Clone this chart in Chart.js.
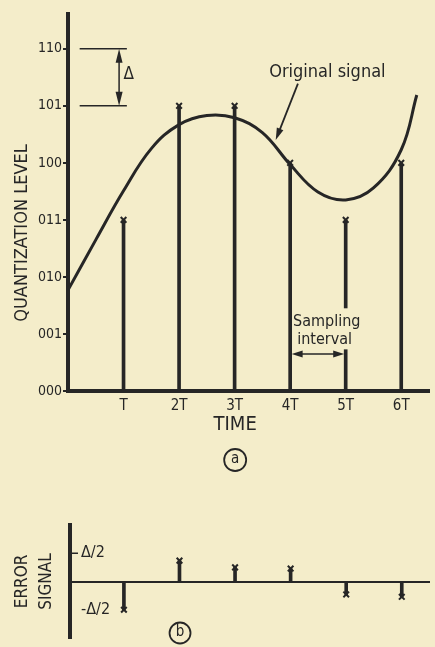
<!DOCTYPE html>
<html><head><meta charset="utf-8">
<script src="https://cdn.jsdelivr.net/npm/chart.js@4.4.1/dist/chart.umd.min.js"></script>
<style>
html,body{margin:0;padding:0;background:#f4edca;width:435px;height:647px;overflow:hidden;}
#c1{position:absolute;left:0;top:0;}
#c2{position:absolute;left:0;top:490px;}
</style></head><body>
<canvas id="c1" width="435" height="480"></canvas>
<canvas id="c2" width="435" height="157"></canvas>
<script>
// ---- data ----
const sampleTimes = [1, 2, 3, 4, 5, 6];
const timeLabels = ['', 'T', '2T', '3T', '4T', '5T', '6T'];
const levelLabels = ['000', '001', '010', '011', '100', '101', '110'];
const sampleLevels = [3, 5, 5, 4, 3, 4];
const signalT =     [0, 0.5, 1, 1.5, 2, 2.5, 3, 3.5, 4, 4.5, 5, 5.5, 6, 6.28];
const signalLevel = [1.77, 2.65, 3.51, 4.25, 4.67, 4.83, 4.79, 4.53, 3.97, 3.49, 3.35, 3.56, 4.23, 5.19];
const errorValues = [-0.5, 0.37, 0.25, 0.23, -0.23, -0.27];
const errorTickLabels = {'0.5': 'Δ/2', '-0.5': '-Δ/2'};

const ink = '#262626';
const bg = '#f4edca';
const fam = "'DejaVu Sans Condensed','DejaVu Sans',sans-serif";

function arrowHead(ctx, x1, y1, x2, y2, len, w) {
  const a = Math.atan2(y2 - y1, x2 - x1);
  const bx = x2 - len * Math.cos(a), by = y2 - len * Math.sin(a);
  ctx.beginPath();
  ctx.moveTo(x2, y2);
  ctx.lineTo(bx + w * Math.sin(a), by - w * Math.cos(a));
  ctx.lineTo(bx - w * Math.sin(a), by + w * Math.cos(a));
  ctx.closePath();
  ctx.fill();
}

const annotTop = {
  id: 'annotTop',
  afterDatasetsDraw(chart) {
    const {ctx, chartArea, scales: {x, y}} = chart;
    const X = v => x.getPixelForValue(v), Y = v => y.getPixelForValue(v);
    ctx.save();
    ctx.strokeStyle = ink; ctx.fillStyle = ink; ctx.lineWidth = 1.5;
    // delta marker
    [6, 5].forEach(l => { ctx.beginPath(); ctx.moveTo(X(0.21), Y(l)); ctx.lineTo(X(1.06), Y(l)); ctx.stroke(); });
    const ax = X(0.92);
    ctx.beginPath(); ctx.moveTo(ax, Y(6) + 6); ctx.lineTo(ax, Y(5) - 6); ctx.stroke();
    arrowHead(ctx, ax, Y(5.5), ax, Y(6), 14, 3.5);
    arrowHead(ctx, ax, Y(5.5), ax, Y(5), 14, 3.5);
    ctx.font = '17px ' + fam; ctx.textAlign = 'left'; ctx.textBaseline = 'middle';
    ctx.fillText('Δ', X(1.0), Y(5.55));
    // original signal label
    ctx.font = '18px ' + fam; ctx.textAlign = 'center';
    ctx.fillText('Original signal', X(4.67), Y(5.58));
    ctx.lineWidth = 1.8;
    ctx.beginPath(); ctx.moveTo(X(4.14), Y(5.39)); ctx.lineTo(X(3.78), Y(4.5)); ctx.stroke();
    arrowHead(ctx, X(4.14), Y(5.39), X(3.74), Y(4.40), 12, 3.5);
    // sampling interval
    ctx.fillStyle = bg;
    ctx.fillRect(X(4.07), Y(1.45), X(5.3) - X(4.07), Y(0.73) - Y(1.45));
    ctx.fillStyle = ink;
    ctx.font = '16px ' + fam;
    ctx.fillText('Sampling', X(4.66), Y(1.21));
    ctx.fillText('interval', X(4.62), Y(0.89));
    const ay = Y(0.65);
    ctx.lineWidth = 1.5;
    ctx.beginPath(); ctx.moveTo(X(4) + 6, ay); ctx.lineTo(X(5) - 6, ay); ctx.stroke();
    arrowHead(ctx, X(4.5), ay, X(4) + 1.5, ay, 11, 3.5);
    arrowHead(ctx, X(4.5), ay, X(5) - 1.5, ay, 11, 3.5);
    // axis titles
    ctx.font = '20px ' + fam; ctx.textAlign = 'center';
    ctx.fillText('TIME', X(3.01), chartArea.bottom + 34);
    ctx.save();
    ctx.translate(22, Y(2.77)); ctx.rotate(-Math.PI / 2);
    ctx.font = '18px ' + fam;
    ctx.fillText('QUANTIZATION LEVEL', 0, 0);
    ctx.restore();
    // (a)
    ctx.lineWidth = 1.8;
    ctx.beginPath(); ctx.arc(X(3.01), chartArea.bottom + 69, 11, 0, Math.PI * 2); ctx.stroke();
    ctx.font = '15px ' + fam;
    ctx.fillText('a', X(3.01), chartArea.bottom + 68);
    ctx.restore();
  }
};

const annotBottom = {
  id: 'annotBottom',
  afterDatasetsDraw(chart) {
    const {ctx, chartArea, scales: {x, y}} = chart;
    const X = v => x.getPixelForValue(v), Y = v => y.getPixelForValue(v);
    ctx.save();
    ctx.strokeStyle = ink; ctx.fillStyle = ink; ctx.lineWidth = 1.5;
    ctx.beginPath(); ctx.moveTo(chartArea.left + 2, Y(0.5)); ctx.lineTo(chartArea.left + 8, Y(0.5)); ctx.stroke();
    ctx.font = '17px ' + fam; ctx.textAlign = 'center'; ctx.textBaseline = 'middle';
    [['ERROR', 23], ['SIGNAL', 47]].forEach(([t, px]) => {
      ctx.save(); ctx.translate(px, Y(0)); ctx.rotate(-Math.PI / 2); ctx.fillText(t, 0, 0); ctx.restore();
    });
    ctx.lineWidth = 1.8;
    ctx.beginPath(); ctx.arc(X(2.01), chartArea.bottom - 5, 10.5, 0, Math.PI * 2); ctx.stroke();
    ctx.font = '15px ' + fam;
    ctx.fillText('b', X(2.01), chartArea.bottom - 6);
    ctx.restore();
  }
};

const pts = (xs, ys) => xs.map((t, i) => ({x: t, y: ys[i]}));

new Chart(document.getElementById('c1'), {
  type: 'scatter',
  data: {
    datasets: [
      {type: 'line', data: pts(signalT, signalLevel), borderColor: ink, borderWidth: 3, pointRadius: 0,
        tension: 0.4, fill: false, order: 3},
      {type: 'bar', data: pts(sampleTimes, sampleLevels), backgroundColor: ink, borderWidth: 0, barThickness: 3, grouped: false, order: 2},
      {type: 'scatter', data: pts(sampleTimes, sampleLevels), pointStyle: 'crossRot', pointRadius: 4, borderColor: ink, borderWidth: 2, order: 1}
    ]
  },
  options: {
    responsive: false, animation: false, devicePixelRatio: 1,
    layout: {padding: {top: 14, left: 0, right: 0, bottom: 0}},
    plugins: {legend: {display: false}, tooltip: {enabled: false}},
    scales: {
      x: {
        type: 'linear', min: 0, max: 6.5, offset: false,
        afterFit(s) { s.height = 89; s.paddingLeft = 0; s.paddingRight = 0; },
        grid: {drawOnChartArea: false, drawTicks: false},
        border: {display: true, width: 4, color: ink},
        ticks: {stepSize: 1, autoSkip: false, maxRotation: 0, includeBounds: false, padding: 6, color: ink,
          font: {family: fam, size: 15}, callback: v => timeLabels[v] ?? null}
      },
      y: {
        type: 'linear', min: 0, max: 6.61,
        afterFit(s) { s.width = 68; s.paddingTop = 0; s.paddingBottom = 0; },
        grid: {drawOnChartArea: false, drawTicks: true, tickLength: 5, color: ink, lineWidth: 2},
        border: {display: true, width: 4, color: ink},
        ticks: {stepSize: 1, includeBounds: false, padding: 1, color: ink,
          font: {family: fam, size: 14}, callback: v => levelLabels[v] ?? null}
      }
    }
  },
  plugins: [annotTop]
});

new Chart(document.getElementById('c2'), {
  type: 'scatter',
  data: {
    datasets: [
      {type: 'bar', data: pts(sampleTimes, errorValues), backgroundColor: ink, borderWidth: 0, barThickness: 3, grouped: false, order: 2},
      {type: 'scatter', data: pts(sampleTimes, errorValues), pointStyle: 'crossRot', pointRadius: 4, borderColor: ink, borderWidth: 2, order: 1}
    ]
  },
  options: {
    responsive: false, animation: false, devicePixelRatio: 1,
    layout: {padding: {top: 35, left: 0, right: 0, bottom: 9}},
    plugins: {legend: {display: false}, tooltip: {enabled: false}},
    scales: {
      x: {
        type: 'linear', position: {y: 0}, min: 0.03, max: 6.49, offset: false,
        afterFit(s) { s.paddingLeft = 0; s.paddingRight = 0; },
        grid: {drawOnChartArea: false, drawTicks: false},
        border: {display: true, width: 2, color: ink},
        ticks: {display: false}
      },
      y: {
        type: 'linear', position: 'left', min: -1, max: 1,
        afterFit(s) { s.width = 70; s.paddingTop = 0; s.paddingBottom = 0; },
        grid: {drawOnChartArea: false, drawTicks: false},
        border: {display: true, width: 4, color: ink},
        ticks: {mirror: true, stepSize: 0.5, padding: 11, color: ink,
          font: {family: fam, size: 16}, callback: v => errorTickLabels[String(v)] ?? ''}
      }
    }
  },
  plugins: [annotBottom]
});
</script>
</body></html>
